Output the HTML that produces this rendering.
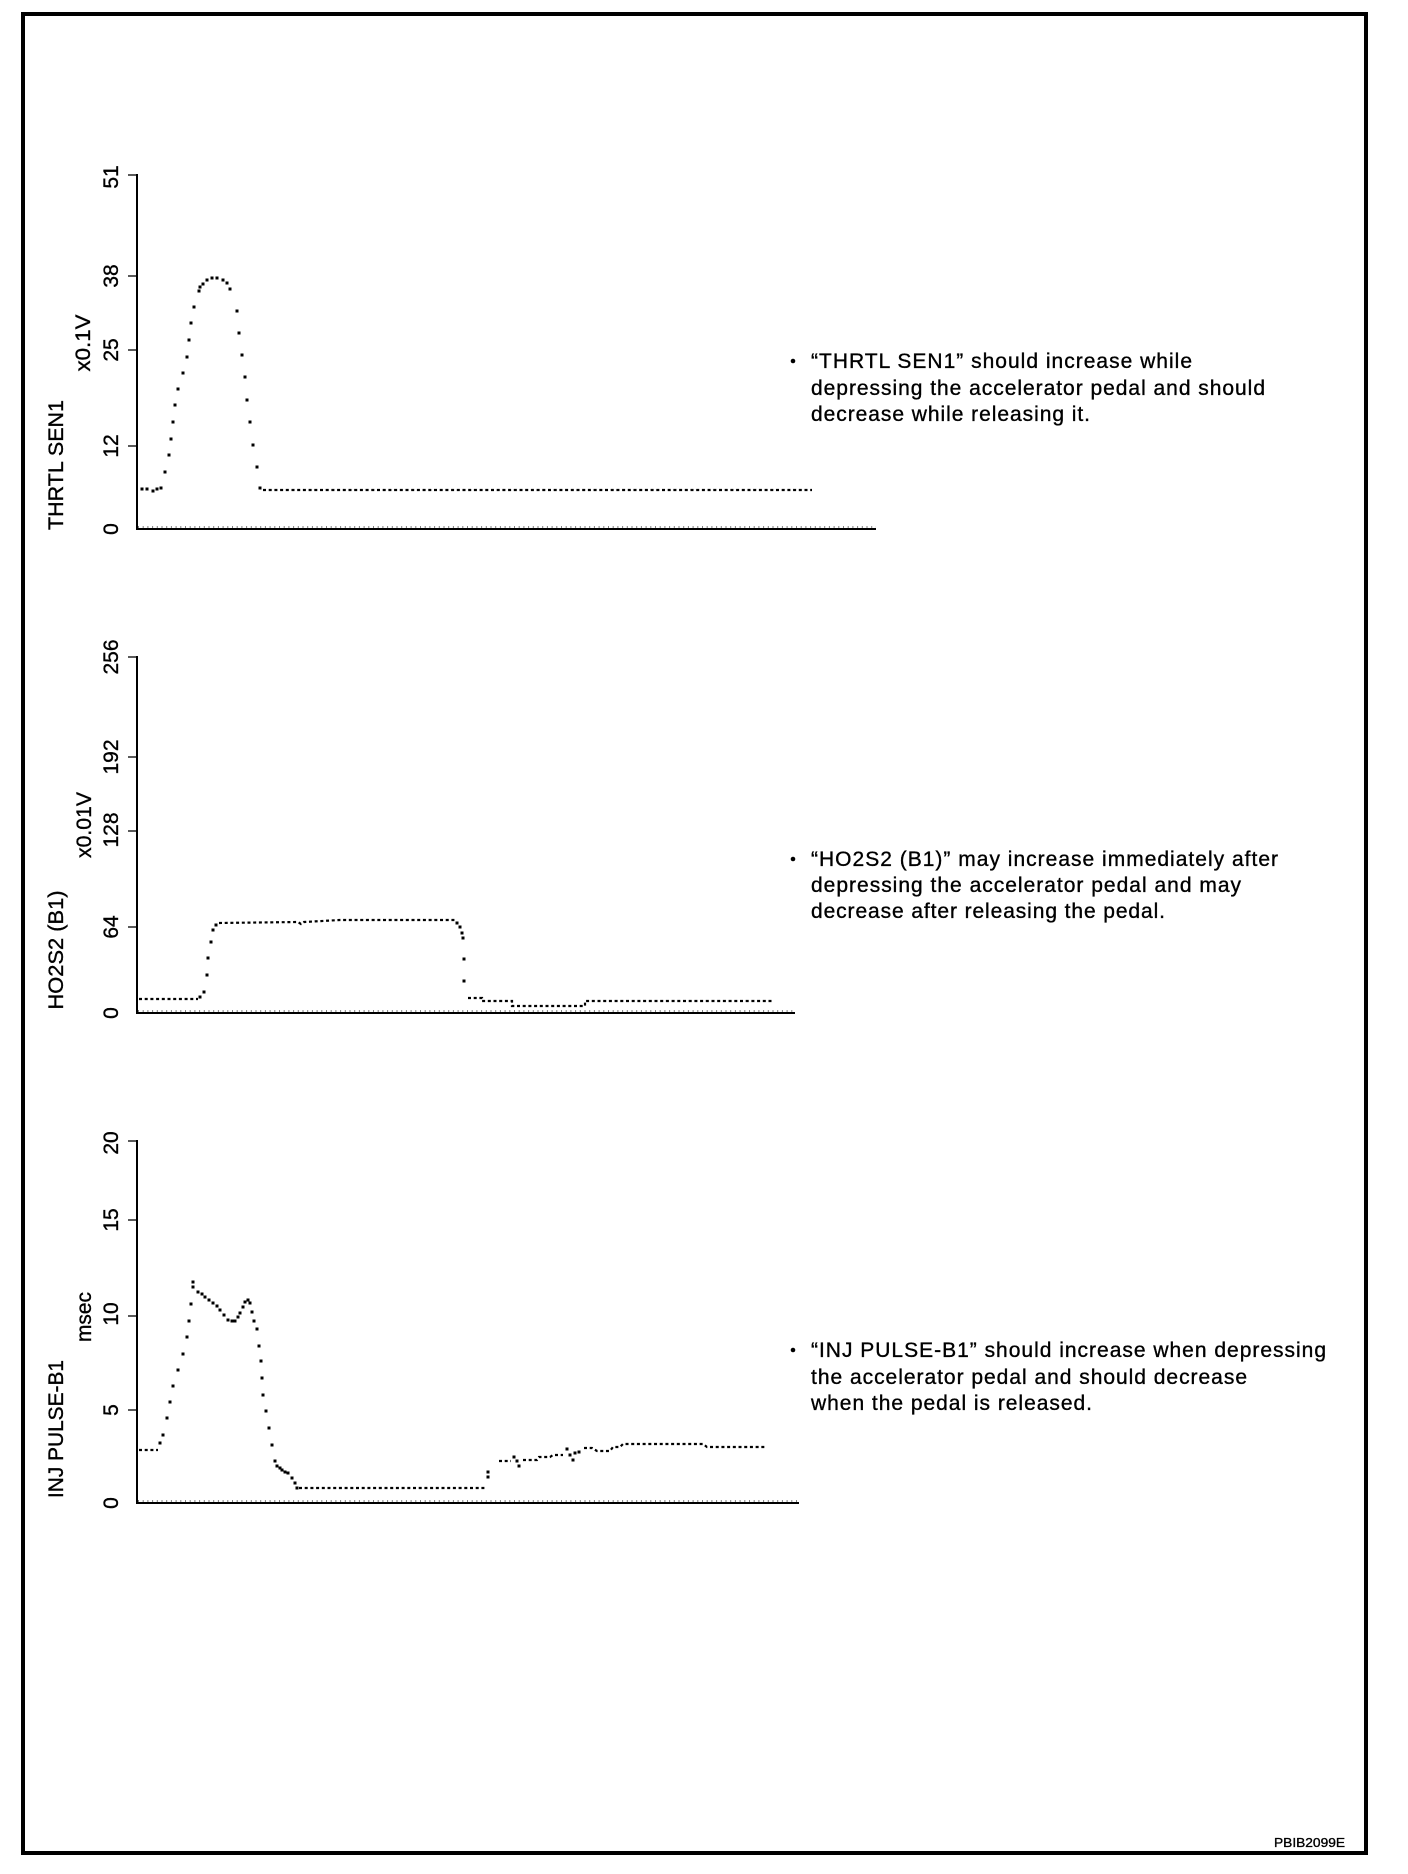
<!DOCTYPE html>
<html>
<head>
<meta charset="utf-8">
<style>
  html, body { margin: 0; padding: 0; background: #fff; }
  svg { display: block; }
  text { font-family: "Liberation Sans", Arial, sans-serif; fill: #000; stroke: #000; stroke-width: 0.35; }
</style>
</head>
<body>
<svg width="1408" height="1874" viewBox="0 0 1408 1874" xmlns="http://www.w3.org/2000/svg">
  <rect x="0" y="0" width="1408" height="1874" fill="#fff"/>
  <!-- outer border -->
  <rect x="23" y="14" width="1343" height="1839" fill="none" stroke="#000" stroke-width="4"/>

  <!-- ================= CHART 1 : THRTL SEN1 ================= -->
  <g stroke="#000" fill="none">
    <line x1="137" y1="174" x2="137" y2="530" stroke-width="2"/>
    <line x1="136" y1="529" x2="876" y2="529" stroke-width="2"/>
    <line x1="138" y1="527" x2="876" y2="527" stroke-width="1" stroke-dasharray="1 3.7"/>
    <g stroke-width="1.3">
      <line x1="128" y1="175" x2="137" y2="175"/>
      <line x1="128" y1="276" x2="137" y2="276"/>
      <line x1="128" y1="350" x2="137" y2="350"/>
      <line x1="128" y1="446" x2="137" y2="446"/>
    </g>
  </g>
  <g font-size="21" text-anchor="middle">
    <text transform="translate(118,177) rotate(-90)">51</text>
    <text transform="translate(118,276) rotate(-90)">38</text>
    <text transform="translate(118,350) rotate(-90)">25</text>
    <text transform="translate(118,446) rotate(-90)">12</text>
    <text transform="translate(118,529) rotate(-90)">0</text>
    <text transform="translate(63,465) rotate(-90)" textLength="130" lengthAdjust="spacingAndGlyphs">THRTL SEN1</text>
    <text transform="translate(90,343) rotate(-90)" textLength="57" lengthAdjust="spacingAndGlyphs">x0.1V</text>
  </g>
  <!-- data 1 -->
  <g fill="#000">
    <rect x="140.5" y="487.5" width="3" height="3"/>
    <rect x="145.5" y="487.5" width="3" height="3"/>
    <rect x="151.5" y="489.5" width="3" height="3"/>
    <rect x="155.5" y="487.5" width="3" height="3"/>
    <rect x="159.5" y="486.5" width="3" height="3"/>
    <rect x="163.5" y="470.5" width="3" height="3"/>
    <rect x="167.5" y="453.5" width="3" height="3"/>
    <rect x="169.5" y="437.5" width="3" height="3"/>
    <rect x="171.5" y="420.5" width="3" height="3"/>
    <rect x="173.5" y="403.5" width="3" height="3"/>
    <rect x="176.5" y="387.5" width="3" height="3"/>
    <rect x="181.5" y="371.5" width="3" height="3"/>
    <rect x="185.5" y="355.5" width="3" height="3"/>
    <rect x="187.5" y="338.5" width="3" height="3"/>
    <rect x="189.5" y="321.5" width="3" height="3"/>
    <rect x="192.5" y="305.5" width="3" height="3"/>
    <rect x="197.5" y="289.5" width="3" height="3"/>
    <rect x="198.5" y="285.5" width="3" height="3"/>
    <rect x="201.5" y="282.5" width="3" height="3"/>
    <rect x="205.5" y="278.5" width="3" height="3"/>
    <rect x="210.5" y="276.5" width="3" height="3"/>
    <rect x="215.5" y="276.5" width="3" height="3"/>
    <rect x="221.5" y="278.5" width="3" height="3"/>
    <rect x="225.5" y="281.5" width="3" height="3"/>
    <rect x="228.5" y="287.5" width="3" height="3"/>
    <rect x="235.5" y="309.5" width="3" height="3"/>
    <rect x="237.5" y="331.5" width="3" height="3"/>
    <rect x="240.5" y="353.5" width="3" height="3"/>
    <rect x="243.5" y="375.5" width="3" height="3"/>
    <rect x="245.5" y="398.5" width="3" height="3"/>
    <rect x="248.5" y="420.5" width="3" height="3"/>
    <rect x="251.5" y="443.5" width="3" height="3"/>
    <rect x="255.5" y="465.5" width="3" height="3"/>
    <rect x="258.5" y="486.5" width="3" height="3"/>
  </g>
  <line x1="263" y1="490" x2="812" y2="490" stroke="#000" stroke-width="2.2" stroke-dasharray="3 2.7"/>

  <!-- text 1 -->
  <circle cx="793" cy="361" r="2.3" fill="#000"/>
  <g font-size="21">
    <text x="811" y="368" textLength="381" lengthAdjust="spacing">“THRTL SEN1” should increase while</text>
    <text x="811" y="395" textLength="454" lengthAdjust="spacing">depressing the accelerator pedal and should</text>
    <text x="811" y="421" textLength="279" lengthAdjust="spacing">decrease while releasing it.</text>
  </g>

  <!-- ================= CHART 2 : HO2S2 (B1) ================= -->
  <g stroke="#000" fill="none">
    <line x1="137" y1="656" x2="137" y2="1014" stroke-width="2"/>
    <line x1="136" y1="1013" x2="795" y2="1013" stroke-width="2"/>
    <line x1="138" y1="1011" x2="795" y2="1011" stroke-width="1" stroke-dasharray="1 3.7"/>
    <g stroke-width="1.3">
      <line x1="128" y1="657" x2="137" y2="657"/>
      <line x1="128" y1="757" x2="137" y2="757"/>
      <line x1="128" y1="831" x2="137" y2="831"/>
      <line x1="128" y1="927" x2="137" y2="927"/>
    </g>
  </g>
  <g font-size="21" text-anchor="middle">
    <text transform="translate(118,657) rotate(-90)">256</text>
    <text transform="translate(118,757) rotate(-90)">192</text>
    <text transform="translate(118,830) rotate(-90)">128</text>
    <text transform="translate(118,927) rotate(-90)">64</text>
    <text transform="translate(118,1013) rotate(-90)">0</text>
    <text transform="translate(63,950) rotate(-90)" textLength="119" lengthAdjust="spacingAndGlyphs">HO2S2 (B1)</text>
    <text transform="translate(91,825) rotate(-90)" textLength="66" lengthAdjust="spacingAndGlyphs">x0.01V</text>
  </g>
  <!-- data 2 -->
  <g stroke="#000" stroke-width="2.2" stroke-dasharray="3 2.7" fill="none">
    <line x1="139" y1="999" x2="198" y2="999"/>
    <polyline points="219,923 298,922 301,924 304,922 340,920 455,920"/>
    <polyline points="468,998 482,998 482,1001 512,1001 512,1006 585,1006 585,1001 774,1001"/>
  </g>
  <g fill="#000">
    <rect x="198.5" y="995.5" width="3" height="3"/>
    <rect x="202.5" y="990.5" width="3" height="3"/>
    <rect x="205.5" y="973.5" width="3" height="3"/>
    <rect x="206.5" y="956.5" width="3" height="3"/>
    <rect x="209.5" y="940.5" width="3" height="3"/>
    <rect x="211.5" y="928.5" width="3" height="3"/>
    <rect x="214.5" y="923.5" width="3" height="3"/>
    <rect x="455.5" y="921.5" width="3" height="3"/>
    <rect x="458.5" y="925.5" width="3" height="3"/>
    <rect x="460.5" y="931.5" width="3" height="3"/>
    <rect x="461.5" y="936.5" width="3" height="3"/>
    <rect x="462.5" y="957.5" width="3" height="3"/>
    <rect x="462.5" y="979.5" width="3" height="3"/>
  </g>

  <!-- text 2 -->
  <circle cx="793" cy="859" r="2.3" fill="#000"/>
  <g font-size="21">
    <text x="811" y="866" textLength="467" lengthAdjust="spacing">“HO2S2 (B1)” may increase immediately after</text>
    <text x="811" y="892" textLength="430" lengthAdjust="spacing">depressing the accelerator pedal and may</text>
    <text x="811" y="918" textLength="354" lengthAdjust="spacing">decrease after releasing the pedal.</text>
  </g>

  <!-- ================= CHART 3 : INJ PULSE-B1 ================= -->
  <g stroke="#000" fill="none">
    <line x1="137" y1="1140" x2="137" y2="1504" stroke-width="2"/>
    <line x1="136" y1="1503" x2="799" y2="1503" stroke-width="2"/>
    <line x1="138" y1="1501" x2="799" y2="1501" stroke-width="1" stroke-dasharray="1 3.7"/>
    <g stroke-width="1.3">
      <line x1="128" y1="1141" x2="137" y2="1141"/>
      <line x1="128" y1="1220" x2="137" y2="1220"/>
      <line x1="128" y1="1316" x2="137" y2="1316"/>
      <line x1="128" y1="1410" x2="137" y2="1410"/>
    </g>
  </g>
  <g font-size="21" text-anchor="middle">
    <text transform="translate(118,1143) rotate(-90)">20</text>
    <text transform="translate(118,1220) rotate(-90)">15</text>
    <text transform="translate(118,1314) rotate(-90)">10</text>
    <text transform="translate(118,1410) rotate(-90)">5</text>
    <text transform="translate(118,1503) rotate(-90)">0</text>
    <text transform="translate(63,1429) rotate(-90)" textLength="138" lengthAdjust="spacingAndGlyphs">INJ PULSE-B1</text>
    <text transform="translate(91,1317) rotate(-90)" textLength="50" lengthAdjust="spacingAndGlyphs">msec</text>
  </g>
  <!-- data 3 -->
  <g stroke="#000" stroke-width="2.2" stroke-dasharray="3 2.7" fill="none">
    <line x1="139" y1="1450" x2="158" y2="1450"/>
    <line x1="299" y1="1488" x2="486" y2="1488"/>
    <line x1="499" y1="1461" x2="511" y2="1461"/>
    <polyline points="523,1460 537,1460 539,1457 550,1457 553,1455 563,1455"/>
    <polyline points="584,1448 592,1448 597,1451 610,1451 613,1447 620,1447 623,1444 703,1444 707,1447 765,1447"/>
  </g>
  <g fill="#000">
    <rect x="158.5" y="1441.5" width="3" height="3"/>
    <rect x="161.5" y="1433.5" width="3" height="3"/>
    <rect x="165.5" y="1416.5" width="3" height="3"/>
    <rect x="168.5" y="1400.5" width="3" height="3"/>
    <rect x="171.5" y="1384.5" width="3" height="3"/>
    <rect x="176.5" y="1368.5" width="3" height="3"/>
    <rect x="181.5" y="1352.5" width="3" height="3"/>
    <rect x="185.5" y="1335.5" width="3" height="3"/>
    <rect x="187.5" y="1319.5" width="3" height="3"/>
    <rect x="189.5" y="1302.5" width="3" height="3"/>
    <rect x="191.5" y="1280.5" width="3" height="3"/>
    <rect x="191.5" y="1285.5" width="3" height="3"/>
    <rect x="196.5" y="1290.5" width="3" height="3"/>
    <rect x="200.5" y="1292.5" width="3" height="3"/>
    <rect x="203.5" y="1295.5" width="3" height="3"/>
    <rect x="207.5" y="1298.5" width="3" height="3"/>
    <rect x="211.5" y="1301.5" width="3" height="3"/>
    <rect x="215.5" y="1304.5" width="3" height="3"/>
    <rect x="218.5" y="1308.5" width="3" height="3"/>
    <rect x="222.5" y="1313.5" width="3" height="3"/>
    <rect x="226.5" y="1318.5" width="3" height="3"/>
    <rect x="230.5" y="1319.5" width="3" height="3"/>
    <rect x="233.5" y="1319.5" width="3" height="3"/>
    <rect x="236.5" y="1315.5" width="3" height="3"/>
    <rect x="238.5" y="1311.5" width="3" height="3"/>
    <rect x="241.5" y="1305.5" width="3" height="3"/>
    <rect x="243.5" y="1300.5" width="3" height="3"/>
    <rect x="246.5" y="1298.5" width="3" height="3"/>
    <rect x="248.5" y="1301.5" width="3" height="3"/>
    <rect x="250.5" y="1310.5" width="3" height="3"/>
    <rect x="252.5" y="1319.5" width="3" height="3"/>
    <rect x="255.5" y="1327.5" width="3" height="3"/>
    <rect x="257.5" y="1344.5" width="3" height="3"/>
    <rect x="259.5" y="1359.5" width="3" height="3"/>
    <rect x="260.5" y="1376.5" width="3" height="3"/>
    <rect x="261.5" y="1393.5" width="3" height="3"/>
    <rect x="264.5" y="1409.5" width="3" height="3"/>
    <rect x="267.5" y="1426.5" width="3" height="3"/>
    <rect x="270.5" y="1443.5" width="3" height="3"/>
    <rect x="273.5" y="1459.5" width="3" height="3"/>
    <rect x="275.5" y="1464.5" width="3" height="3"/>
    <rect x="278.5" y="1466.5" width="3" height="3"/>
    <rect x="280.5" y="1468.5" width="3" height="3"/>
    <rect x="283.5" y="1470.5" width="3" height="3"/>
    <rect x="286.5" y="1471.5" width="3" height="3"/>
    <rect x="290.5" y="1476.5" width="3" height="3"/>
    <rect x="293.5" y="1481.5" width="3" height="3"/>
    <rect x="295.5" y="1486.5" width="3" height="3"/>
    <rect x="486.5" y="1475.5" width="3" height="3"/>
    <rect x="486.5" y="1470.5" width="3" height="3"/>
    <rect x="512.5" y="1455.5" width="3" height="3"/>
    <rect x="515.5" y="1459.5" width="3" height="3"/>
    <rect x="517.5" y="1464.5" width="3" height="3"/>
    <rect x="565.5" y="1447.5" width="3" height="3"/>
    <rect x="568.5" y="1453.5" width="3" height="3"/>
    <rect x="571.5" y="1458.5" width="3" height="3"/>
    <rect x="573.5" y="1451.5" width="3" height="3"/>
    <rect x="577.5" y="1450.5" width="3" height="3"/>
  </g>

  <!-- text 3 -->
  <circle cx="793" cy="1350" r="2.3" fill="#000"/>
  <g font-size="21">
    <text x="811" y="1357" textLength="515" lengthAdjust="spacing">“INJ PULSE-B1” should increase when depressing</text>
    <text x="811" y="1384" textLength="436" lengthAdjust="spacing">the accelerator pedal and should decrease</text>
    <text x="811" y="1410" textLength="281" lengthAdjust="spacing">when the pedal is released.</text>
  </g>

  <!-- figure id -->
  <text x="1274" y="1847" font-size="13" textLength="71" lengthAdjust="spacingAndGlyphs">PBIB2099E</text>
</svg>
</body>
</html>
